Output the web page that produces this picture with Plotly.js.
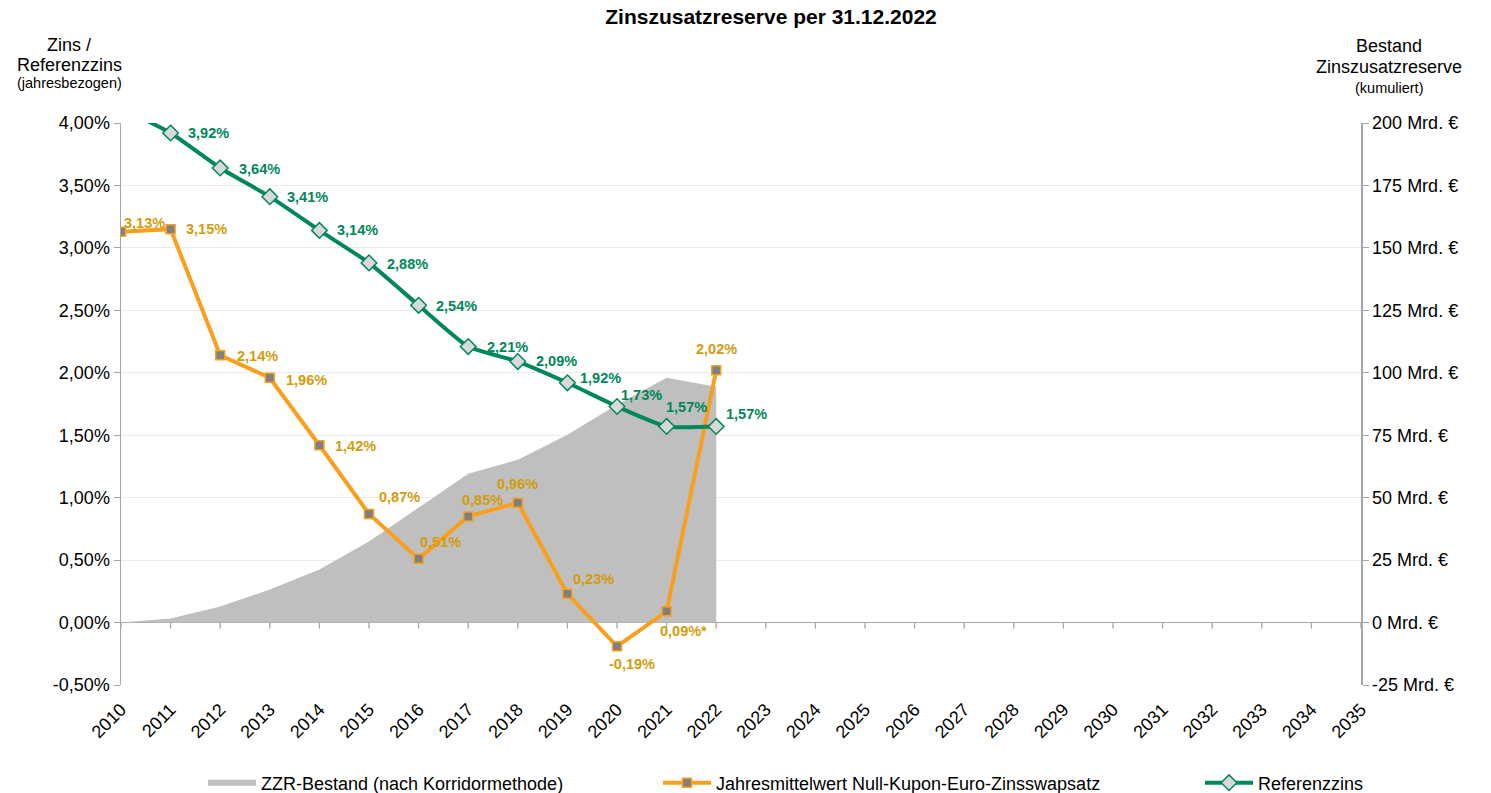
<!DOCTYPE html>
<html>
<head>
<meta charset="utf-8">
<script src="https://cdn.plot.ly/plotly-3.0.1.min.js"></script>
<style>html,body{margin:0;padding:0;background:#fff;}#chart{width:1491px;height:793px;}</style>
</head>
<body>
<div id="chart"></div>
<script>
// ---- data ----
const years = [2010,2011,2012,2013,2014,2015,2016,2017,2018,2019,2020,2021,2022];
const axisYears = [2010,2011,2012,2013,2014,2015,2016,2017,2018,2019,2020,2021,2022,2023,2024,2025,2026,2027,2028,2029,2030,2031,2032,2033,2034,2035];
const zzrBestand = [0, 1.6, 6.4, 13.2, 21.2, 32.5, 46, 59.6, 65.2, 75.2, 87.2, 98, 94.4];      // Mrd. €
const swapRate = [3.13, 3.15, 2.14, 1.96, 1.42, 0.87, 0.51, 0.85, 0.96, 0.23, -0.19, 0.09, 2.02]; // %
const refRate = [4.12, 3.92, 3.64, 3.41, 3.14, 2.88, 2.54, 2.21, 2.09, 1.92, 1.73, 1.57, 1.57];   // %
const swapLabels = ['3,13%','3,15%','2,14%','1,96%','1,42%','0,87%','0,51%','0,85%','0,96%','0,23%','-0,19%','0,09%*','2,02%'];
const refLabels = ['','3,92%','3,64%','3,41%','3,14%','2,88%','2,54%','2,21%','2,09%','1,92%','1,73%','1,57%','1,57%'];
const leftTickVals = [-0.5,0,0.5,1,1.5,2,2.5,3,3.5,4];
const leftTickText = ['-0,50%','0,00%','0,50%','1,00%','1,50%','2,00%','2,50%','3,00%','3,50%','4,00%'];
const rightTickVals = [-25,0,25,50,75,100,125,150,175,200];
const rightTickText = ['-25 Mrd. €','0 Mrd. €','25 Mrd. €','50 Mrd. €','75 Mrd. €','100 Mrd. €','125 Mrd. €','150 Mrd. €','175 Mrd. €','200 Mrd. €'];

// ---- label placement (pixel offsets: [dx, dy up]) ----
const swapLabelOffsets = [[23,9],[36,0],[37,-1],[37,-2],[36,-1],[30,17],[22,17],[14,16],[0,19],[26,15],[15,-18],[17,-20],[0,21]];
const refLabelOffsets = [[0,0],[38,0],[39,-1],[38,0],[38,0],[38,-1],[38,-1],[39,0],[39,1],[33,5],[24,12],[20,19],[30,12]];

const GREEN = '#00875a';
const ORANGE = '#f99f1c';
const GOLD = '#d29c0c';
const AXIS = '#a6a6a6';
const FONT = 'Liberation Sans, Arial, sans-serif';

const traces = [
  {
    x: years, y: zzrBestand, xaxis: 'x', yaxis: 'y',
    type: 'scatter', mode: 'none', fill: 'tozeroy', fillcolor: '#bfbfbf',
    name: 'ZZR-Bestand (nach Korridormethode)', legend: 'legend', showlegend: true, hoverinfo: 'skip'
  },
  {
    x: years, y: swapRate, xaxis: 'x', yaxis: 'y2',
    type: 'scatter', mode: 'lines+markers',
    line: {color: ORANGE, width: 4},
    marker: {symbol: 'square', size: 9, color: '#7f7f7f', line: {color: ORANGE, width: 1.5}},
    name: 'Jahresmittelwert Null-Kupon-Euro-Zinsswapsatz', legend: 'legend2', showlegend: true
  },
  {
    x: years, y: refRate, xaxis: 'x', yaxis: 'y2',
    type: 'scatter', mode: 'lines+markers',
    line: {color: GREEN, width: 4, shape: 'spline', smoothing: 0.5},
    marker: {symbol: 'diamond', size: 12, color: '#d9d9d9', line: {color: GREEN, width: 1.5}},
    name: 'Referenzzins', legend: 'legend3', showlegend: true
  }
];

const annotations = [];
years.forEach((yr, i) => {
  annotations.push({
    x: yr, y: swapRate[i], xref: 'x', yref: 'y2', text: '<b>' + swapLabels[i] + '</b>',
    showarrow: false, xanchor: 'center', yanchor: 'middle',
    xshift: swapLabelOffsets[i][0], yshift: swapLabelOffsets[i][1],
    font: {family: FONT, size: 14.5, color: GOLD}
  });
  if (refLabels[i]) {
    annotations.push({
      x: yr, y: refRate[i], xref: 'x', yref: 'y2', text: '<b>' + refLabels[i] + '</b>',
      showarrow: false, xanchor: 'center', yanchor: 'middle',
      xshift: refLabelOffsets[i][0], yshift: refLabelOffsets[i][1],
      font: {family: FONT, size: 14.5, color: GREEN}
    });
  }
});
// axis titles (pixel -> paper conversion of plot area 121..1361 x 123..685)
function px(xp){return (xp-121)/1240;}
function py(yp){return (685-yp)/562;}
const axisTitles = [
  ['Zins /', 69, 45, 18], ['Referenzzins', 69, 65, 18], ['(jahresbezogen)', 69, 83, 14.5],
  ['Bestand', 1389, 46, 18], ['Zinszusatzreserve', 1389, 67, 18], ['(kumuliert)', 1389, 88, 14.5]
];
axisTitles.forEach(t => annotations.push({
  text: t[0], x: px(t[1]), y: py(t[2]), xref: 'paper', yref: 'paper',
  showarrow: false, xanchor: 'center', yanchor: 'middle',
  font: {family: FONT, size: t[3], color: '#000'}
}));

// tick marks on the zero line
const shapes = axisYears.map(yr => ({
  type: 'line', xref: 'x', yref: 'y2', x0: yr, x1: yr,
  ysizemode: 'pixel', yanchor: 0, y0: 0, y1: -6,
  line: {color: AXIS, width: 1.3}, layer: 'above'
}));

const legendBase = {orientation: 'h', yanchor: 'middle', xanchor: 'left', y: py(783), visible: true,
  font: {family: FONT, size: 18, color: '#000'}, bgcolor: 'rgba(0,0,0,0)', itemwidth: 48};

const layout = {
  width: 1491, height: 793,
  margin: {l: 121, r: 130, t: 123, b: 108, pad: 0, autoexpand: false},
  paper_bgcolor: '#fff', plot_bgcolor: '#fff',
  showlegend: true,
  font: {family: FONT, size: 18, color: '#000'},
  title: {text: '<b>Zinszusatzreserve per 31.12.2022</b>', x: 771/1491, xref: 'container', xanchor: 'center',
          y: 1 - 17/793, yref: 'container', yanchor: 'middle', font: {family: FONT, size: 21, color: '#000'}},
  xaxis: {range: [2010, 2035], tickvals: axisYears, ticktext: axisYears.map(String), tickangle: -45,
          showgrid: false, zeroline: false, showline: false, ticks: 'outside', ticklen: 6, tickcolor: 'rgba(0,0,0,0)',
          automargin: false,
          tickfont: {family: FONT, size: 18, color: '#000'}, fixedrange: true},
  yaxis: {side: 'right', range: [-25, 200], tickvals: rightTickVals, ticktext: rightTickText,
          showgrid: true, gridcolor: '#ececec', gridwidth: 1, zeroline: false, automargin: false,
          showline: true, linecolor: AXIS, linewidth: 1.5, ticks: 'outside', ticklen: 6, tickcolor: AXIS,
          tickfont: {family: FONT, size: 18, color: '#000'}, fixedrange: true},
  yaxis2: {overlaying: 'y', side: 'left', range: [-0.5, 4.0], tickvals: leftTickVals, ticktext: leftTickText,
           showgrid: false, zeroline: true, zerolinecolor: AXIS, zerolinewidth: 1.5, automargin: false,
           showline: true, linecolor: AXIS, linewidth: 1.5, ticks: 'outside', ticklen: 6, tickcolor: AXIS,
           tickfont: {family: FONT, size: 18, color: '#000'}, fixedrange: true},
  legend: Object.assign({}, legendBase, {x: px(203)}),
  legend2: Object.assign({}, legendBase, {x: px(658)}),
  legend3: Object.assign({}, legendBase, {x: px(1200)}),
  annotations: annotations,
  shapes: shapes,
  hovermode: false
};

Plotly.newPlot('chart', traces, layout, {displayModeBar: false, staticPlot: true});
</script>
</body>
</html>
